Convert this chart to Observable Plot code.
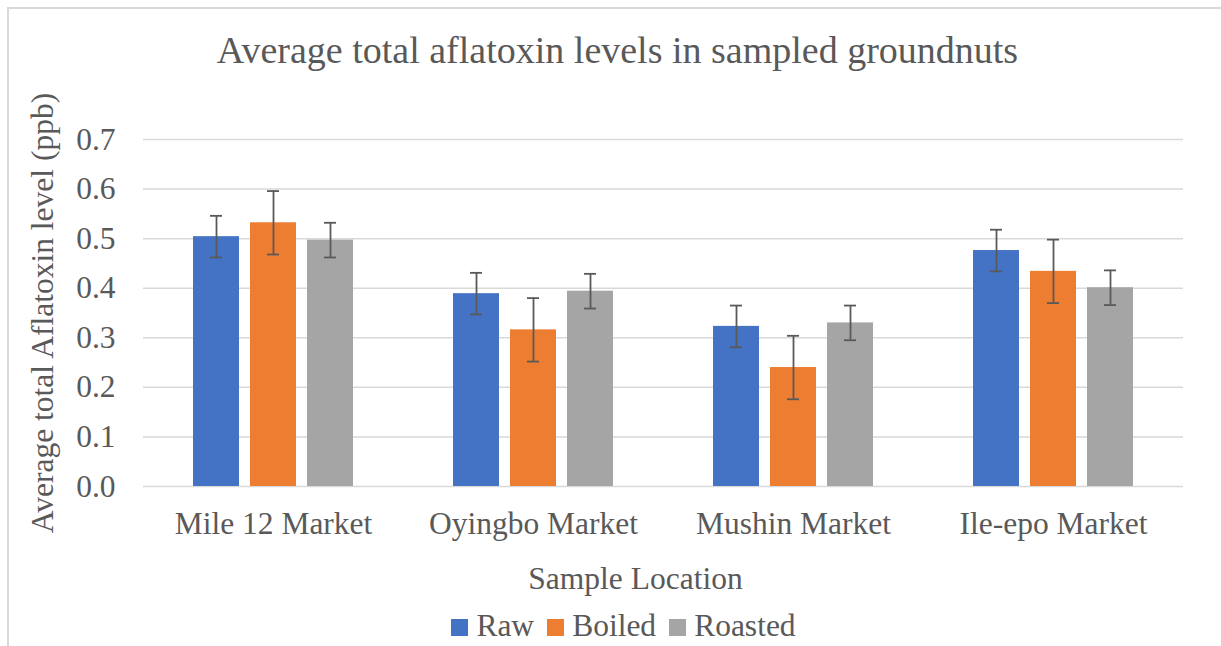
<!DOCTYPE html>
<html><head><meta charset="utf-8">
<script src="https://cdn.jsdelivr.net/npm/d3@7"></script>
<script src="https://cdn.jsdelivr.net/npm/@observablehq/plot@0.6"></script>
<style>
html,body{margin:0;padding:0;background:#fff;overflow:hidden;width:1221px;height:646px;}
body{position:relative;font-family:"Liberation Serif","Times New Roman",serif;color:#595959;}
#frame{position:absolute;left:7px;top:7px;width:1400px;height:800px;border-left:2px solid #d9d9d9;border-top:2px solid #d9d9d9;box-sizing:border-box;}
#title{position:absolute;left:7px;top:31px;width:1221px;text-align:center;font-size:38px;line-height:38px;white-space:nowrap;}
#chart{position:absolute;left:0;top:90px;}
#xlabel{position:absolute;left:0;top:563px;width:1271px;text-align:center;font-size:31.5px;line-height:31.5px;white-space:nowrap;}
#legend{position:absolute;left:0;top:610px;width:1247px;display:flex;justify-content:center;font-size:31.5px;line-height:31.5px;white-space:nowrap;}
#legend .sw{display:inline-block;width:17px;height:17px;margin-right:8px;}
#legend .it{margin-right:13px;}
#legend .it:last-child{margin-right:0;}
</style>
</head><body>
<div id="frame"></div>
<div id="title">Average total aflatoxin levels in sampled groundnuts</div>
<div id="chart"></div>
<div id="xlabel">Sample Location</div>
<div id="legend"></div>
<script>
const markets = ["Mile 12 Market", "Oyingbo Market", "Mushin Market", "Ile-epo Market"];
const series = ["Raw", "Boiled", "Roasted"];
const colors = ["#4472C4", "#ED7D31", "#A5A5A5"];
const rawValues = [0.504, 0.389, 0.323, 0.476];
const boiledValues = [0.532, 0.316, 0.240, 0.434];
const roastedValues = [0.497, 0.394, 0.330, 0.401];
const rawErrors = [0.042, 0.042, 0.042, 0.042];
const boiledErrors = [0.064, 0.064, 0.064, 0.064];
const roastedErrors = [0.035, 0.035, 0.035, 0.035];
const yTicks = [0, 0.1, 0.2, 0.3, 0.4, 0.5, 0.6, 0.7];

const valueSets = [rawValues, boiledValues, roastedValues];
const errorSets = [rawErrors, boiledErrors, roastedErrors];
const data = [];
markets.forEach((m, i) => series.forEach((s, j) => {
  data.push({market: m, series: s, value: valueSets[j][i], err: errorSets[j][i]});
}));

const chart = Plot.plot({
  width: 1221,
  height: 460,
  marginTop: 49,
  marginBottom: 64,
  marginLeft: 141,
  marginRight: 37,
  style: {fontFamily: "'Liberation Serif','Times New Roman',serif", fontSize: "31.5px", color: "#595959", background: "transparent"},
  facet: {data: data, x: "market"},
  fx: {domain: markets, padding: 0, label: null, axis: "bottom", tickSize: 0, tickPadding: 25},
  x: {domain: series, paddingInner: 0.2, paddingOuter: 0.85, axis: null},
  y: {domain: [0, 0.7], ticks: yTicks, tickFormat: d3.format(".1f"), tickSize: 0, tickPadding: 28,
      label: "Average total Aflatoxin level (ppb)", labelAnchor: "center", labelOffset: 113, labelArrow: "none"},
  color: {domain: series, range: colors},
  marks: [
    Plot.ruleY(yTicks, {stroke: "#d9d9d9", strokeWidth: 1.5}),
    Plot.barY(data, {x: "series", y: "value", fill: "series"}),
    Plot.ruleX(data, {x: "series", y1: d => d.value - d.err, y2: d => d.value + d.err, stroke: "#595959", strokeWidth: 1.8}),
    Plot.tickY(data, {x: "series", y: d => d.value - d.err, stroke: "#595959", strokeWidth: 1.8, insetLeft: 17, insetRight: 17}),
    Plot.tickY(data, {x: "series", y: d => d.value + d.err, stroke: "#595959", strokeWidth: 1.8, insetLeft: 17, insetRight: 17})
  ]
});
document.getElementById("chart").appendChild(chart);

const legend = document.getElementById("legend");
series.forEach((s, j) => {
  const it = document.createElement("span");
  it.className = "it";
  const sw = document.createElement("span");
  sw.className = "sw";
  sw.style.background = colors[j];
  it.appendChild(sw);
  it.appendChild(document.createTextNode(s));
  legend.appendChild(it);
});
</script>
</body></html>
